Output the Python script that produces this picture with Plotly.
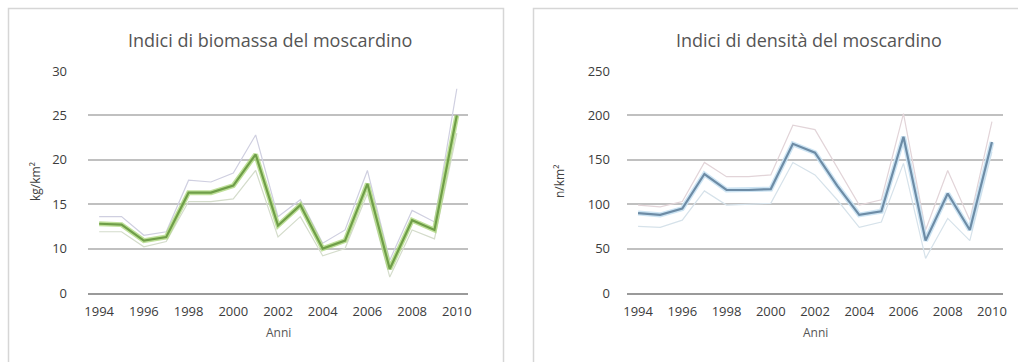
import plotly.graph_objects as go

years = list(range(1994, 2011))

# Biomass index (kg/km2), as drawn on the left chart's gridline scale
biomass = [12.8, 12.7, 10.9, 11.3, 16.3, 16.3, 17.1, 20.6, 12.6, 14.9, 10.0, 10.9, 17.3, 7.7, 13.2, 12.1, 25.0]
biomass_hi = [13.6, 13.6, 11.5, 11.9, 17.7, 17.5, 18.5, 22.8, 13.6, 15.5, 10.6, 12.1, 18.8, 8.7, 14.3, 13.0, 28.0]
biomass_lo = [11.9, 11.9, 10.2, 10.8, 15.3, 15.3, 15.6, 18.8, 11.3, 13.6, 9.2, 10.0, 16.2, 6.8, 12.1, 11.1, 23.0]

# Density index (n/km2)
density = [90, 88, 95, 134, 116, 116, 117, 168, 158, 121, 88, 92, 176, 59, 112, 71, 170]
density_hi = [99, 97, 103, 147, 131, 131, 133, 189, 184, 142, 99, 105, 202, 71, 138, 82, 193]
density_lo = [75, 74, 82, 115, 99, 100, 101, 147, 133, 105, 74, 80, 146, 39, 84, 59, 159]

left_ticks = [5, 10, 15, 20, 25, 30]
left_ticktext = ["0", "10", "15", "20", "25", "30"]
right_ticks = [0, 50, 100, 150, 200, 250]
x_ticks = list(range(1994, 2011, 2))

W, H = 1018, 362
FONT = "Open Sans"

fig = go.Figure()

def add_series(xref, yref, mid, hi, lo, halo, core, bound_hi, bound_lo):
    fig.add_trace(go.Scatter(x=years, y=hi, mode="lines", line=dict(color=bound_hi, width=1.2),
                             xaxis=xref, yaxis=yref, showlegend=False, hoverinfo="skip"))
    fig.add_trace(go.Scatter(x=years, y=lo, mode="lines", line=dict(color=bound_lo, width=1.2),
                             xaxis=xref, yaxis=yref, showlegend=False, hoverinfo="skip"))
    fig.add_trace(go.Scatter(x=years, y=mid, mode="lines", line=dict(color=halo, width=5),
                             xaxis=xref, yaxis=yref, showlegend=False, hoverinfo="skip"))
    fig.add_trace(go.Scatter(x=years, y=mid, mode="lines", line=dict(color=core, width=2.2),
                             xaxis=xref, yaxis=yref, showlegend=False))

add_series("x", "y", biomass, biomass_hi, biomass_lo,
           "rgba(170,214,120,0.75)", "#6f9e48", "#cfcfe0", "#d4dccb")
add_series("x2", "y2", density, density_hi, density_lo,
           "rgba(200,225,242,0.9)", "#6d8ca6", "#e2d4d8", "#d6e2ea")

def px_x(p):
    return p / W

def px_y(p):
    return 1 - p / H

ydom = [px_y(293), px_y(71)]

common_x = dict(range=[1993.5, 2010.5], tickvals=x_ticks, showgrid=False, zeroline=False,
                showline=True, linecolor="#9a9a9a", linewidth=1.5, ticks="",
                tickfont=dict(family=FONT, size=13, color="#3c3c3c"), ticklabelstandoff=6,
                fixedrange=True, automargin=False)
common_y = dict(showgrid=True, gridcolor="#c0c0c0", gridwidth=1.5, zeroline=False, showline=False,
                ticks="", tickfont=dict(family=FONT, size=13, color="#3c3c3c"),
                fixedrange=True, automargin=False)

fig.update_layout(
    width=W, height=H, autosize=False,
    margin=dict(l=0, r=0, t=0, b=0, pad=0),
    paper_bgcolor="white", plot_bgcolor="white",
    xaxis=dict(domain=[px_x(88), px_x(468)], anchor="y", **common_x),
    yaxis=dict(domain=ydom, anchor="x", range=[5, 30], tickvals=left_ticks, ticktext=left_ticktext,
               ticklabelstandoff=20, **common_y),
    xaxis2=dict(domain=[px_x(627), px_x(1003)], anchor="y2", **common_x),
    yaxis2=dict(domain=ydom, anchor="x2", range=[0, 250], tickvals=right_ticks,
                ticklabelstandoff=16, **common_y),
)

# chart frames
fig.add_shape(type="rect", xref="paper", yref="paper", x0=px_x(8.5), x1=px_x(503.5),
              y0=-0.05, y1=px_y(8.5), line=dict(color="#d6d6d6", width=1.5), fillcolor="rgba(0,0,0,0)")
fig.add_shape(type="rect", xref="paper", yref="paper", x0=px_x(533.5), x1=1.05,
              y0=-0.05, y1=px_y(8.5), line=dict(color="#d6d6d6", width=1.5), fillcolor="rgba(0,0,0,0)")

def ann(text, x, y, size, angle=0, color="#404040"):
    fig.add_annotation(text=text, x=px_x(x), y=px_y(y), xref="paper", yref="paper",
                       showarrow=False, textangle=angle, xanchor="center", yanchor="middle",
                       font=dict(family=FONT, size=size, color=color))

ann("Indici di biomassa del moscardino", 270, 40, 18, color="#555555")
ann("Indici di densità del moscardino", 809, 40, 18, color="#555555")
ann("kg/km²", 35, 182, 12, angle=-90)
ann("n/km²", 559, 182, 12, angle=-90)
ann("Anni", 278, 332, 12, color="#555555")
ann("Anni", 815, 332, 12, color="#555555")

fig.write_html("out.html", config={"displayModeBar": False},
               post_script="document.body.style.margin='0';document.body.style.overflow='hidden';")
